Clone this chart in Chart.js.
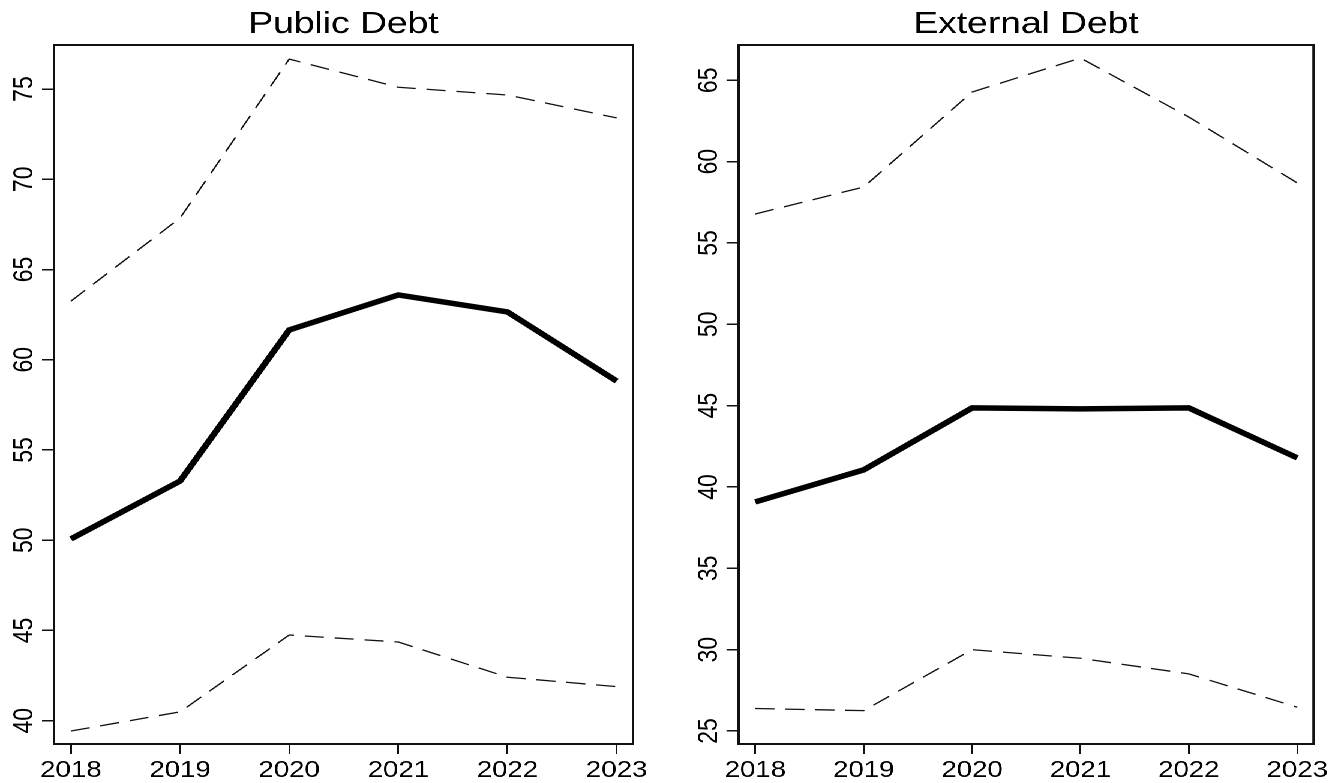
<!DOCTYPE html>
<html>
<head>
<meta charset="utf-8">
<script src="https://cdn.jsdelivr.net/npm/chart.js@4/dist/chart.umd.min.js"></script>
<style>
  html, body { margin: 0; padding: 0; background: #fff; overflow: hidden; }
  #stage {
    position: absolute; left: 0; top: 0;
    width: 1110px; height: 783px;
    transform: scaleX(1.2); transform-origin: 0 0;
  }
  .panel { position: absolute; top: 0; width: 555px; height: 783px; }
  #p1 { left: 0; }
  #p2 { left: 555px; }
</style>
</head>
<body>
<div id="stage">
  <div class="panel" id="p1"><canvas id="c1" width="555" height="783"></canvas></div>
  <div class="panel" id="p2"><canvas id="c2" width="555" height="783"></canvas></div>
</div>
<script>
// Years on the horizontal axis
const years = [2018, 2019, 2020, 2021, 2022, 2023];

// Public debt (% of GDP): projection with upper and lower bands
const publicCentral = [50.07, 53.28, 61.65, 63.59, 62.65, 58.82];
const publicUpper   = [63.25, 67.85, 76.66, 75.10, 74.67, 73.40];
const publicLower   = [39.43, 40.49, 44.75, 44.36, 42.41, 41.89];
const publicTicks   = [40, 45, 50, 55, 60, 65, 70, 75];

// External debt (% of GDP): projection with upper and lower bands
const externalCentral = [39.08, 41.05, 44.86, 44.80, 44.86, 41.79];
const externalUpper   = [56.78, 58.44, 64.28, 66.37, 62.74, 58.69];
const externalLower   = [26.38, 26.25, 30.00, 29.47, 28.51, 26.46];
const externalTicks   = [25, 30, 35, 40, 45, 50, 55, 60, 65];

const INK = '#111';
const FONT = '"Liberation Sans", Arial, sans-serif';
const TICK_SIZE = 23;

function pairs(values) {
  return years.map((yr, i) => ({ x: yr, y: values[i] }));
}

// Box around the plot region, rotated y labels and the panel title
const framePlugin = {
  id: 'frame',
  afterDraw(chart, args, opts) {
    const { ctx, chartArea: a } = chart;
    const ys = chart.scales.y;
    ctx.save();
    ctx.strokeStyle = INK;
    ctx.lineWidth = 2;
    ctx.strokeRect(a.left, a.top, a.right - a.left, a.bottom - a.top);

    ctx.fillStyle = '#000';
    ctx.font = TICK_SIZE + 'px ' + FONT;
    ctx.textAlign = 'center';
    ctx.textBaseline = 'alphabetic';
    ys.ticks.forEach(t => {
      const py = ys.getPixelForValue(t.value);
      ctx.save();
      ctx.translate(a.left - 18, py);
      ctx.rotate(-Math.PI / 2);
      ctx.fillText(String(t.value), 0, 0);
      ctx.restore();
    });

    ctx.font = '31px ' + FONT;
    ctx.textAlign = 'center';
    ctx.fillText(opts.text, (a.left + a.right) / 2, 33);
    ctx.restore();
  }
};

function makePanel(canvasId, title, central, upper, lower, yTicks, yMin, yMax, axisWidth, padRight) {
  const dashed = {
    borderColor: INK, borderWidth: 1.3, borderDash: [16, 9],
    pointRadius: 0, tension: 0, fill: false
  };
  return new Chart(document.getElementById(canvasId), {
    type: 'line',
    data: {
      datasets: [
        Object.assign({ label: 'Upper', data: pairs(upper) }, dashed),
        Object.assign({ label: 'Lower', data: pairs(lower) }, dashed),
        { label: 'Baseline', data: pairs(central), borderColor: '#000', borderWidth: 5.5,
          pointRadius: 0, tension: 0, fill: false, borderCapStyle: 'butt', borderJoinStyle: 'miter' }
      ]
    },
    options: {
      responsive: false,
      animation: false,
      devicePixelRatio: 2,
      layout: { padding: { top: 45, right: padRight, left: 0, bottom: 0 } },
      plugins: {
        legend: { display: false },
        tooltip: { enabled: false },
        title: { display: false },
        frame: { text: title }
      },
      scales: {
        x: {
          type: 'linear',
          min: 2017.845, max: 2023.15,
          afterBuildTicks: s => { s.ticks = years.map(v => ({ value: v })); },
          afterFit: s => { s.height = 39; },
          grid: { display: true, drawOnChartArea: false, drawTicks: true, tickLength: 10, color: INK, lineWidth: 1.5 },
          border: { display: true, color: INK, width: 2 },
          ticks: { color: '#000', font: { family: FONT, size: TICK_SIZE }, padding: 3, maxRotation: 0, autoSkip: false,
                   callback: v => String(v) }
        },
        y: {
          type: 'linear',
          min: yMin, max: yMax,
          afterBuildTicks: s => { s.ticks = yTicks.map(v => ({ value: v })); },
          afterFit: s => { s.width = axisWidth; },
          grid: { display: true, drawOnChartArea: false, drawTicks: true, tickLength: 10, color: INK, lineWidth: 1.5 },
          border: { display: true, color: INK, width: 2 },
          ticks: { display: false }
        }
      }
    },
    plugins: [framePlugin]
  });
}

makePanel('c1', 'Public Debt', publicCentral, publicUpper, publicLower, publicTicks, 38.71, 77.44, 45, 27.5);
makePanel('c2', 'External Debt', externalCentral, externalUpper, externalLower, externalTicks, 24.2, 67.17, 60.4, 12.5);
</script>
</body>
</html>
